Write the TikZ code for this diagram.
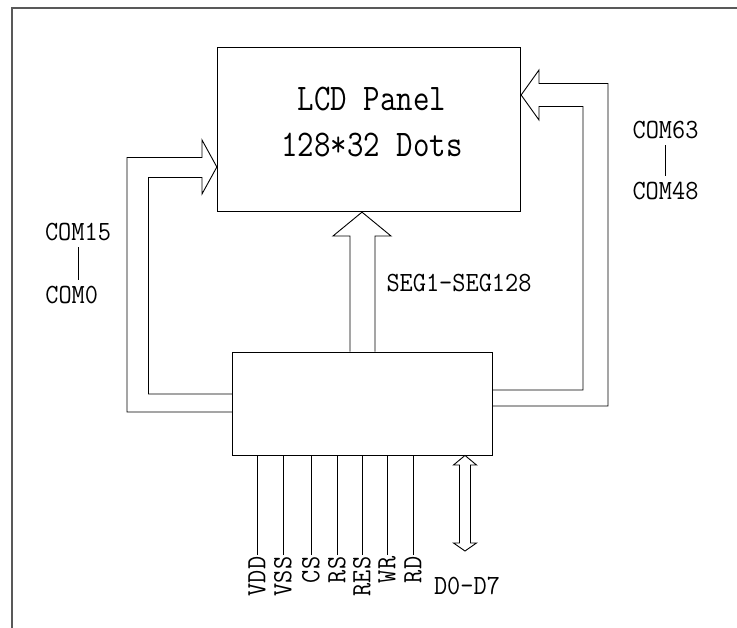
\documentclass[tikz,border=0pt]{standalone}
\usepackage{tikz}
\usetikzlibrary{calc}
\newcommand{\bigFont}{\fontsize{37.6}{46.7}\selectfont\ttfamily}
\newcommand{\smallFont}{\fontsize{27.8}{33}\selectfont\ttfamily}

\begin{document}
\begin{tikzpicture}[x=1pt, y=-1pt, line width=0.9pt,
	box/.style={draw, rectangle, inner sep=0pt},
	bigText/.style={font=\bigFont, align=center, xscale=0.85},
	smallText/.style={font=\smallFont, xscale=0.92, inner sep=6pt, anchor=base},
	pinText/.style={font=\smallFont, rotate=90, xscale=0.92, anchor=east, inner sep=1.5pt}]
\useasboundingbox (0,0) rectangle (737,628);

% Draw frame
\draw[gray!70!black, line width=1.3pt] (12,628) -- (12,8) -- (737,8);

% Draw panel and driver
\node[box, minimum width=303.4pt, minimum height=164.4pt] (panel) at (369,129.5) {};
\node[bigText] (panelText) at (372,122) {LCD Panel\\128*32 Dots};
\node[box, minimum width=260.4pt, minimum height=103pt] (driver) at (362.5,403.5) {};

% Draw COM arrows
\draw (driver.west |- 0,412) -- (127,412) -- (127,157.5) -- (202,157.5) -- (202,140)
	-- (panel.west |- 0,167) -- (202,194) -- (202,177.5) -- (148.5,177.5) -- (148.5,394) -- (driver.west |- 0,394);
\draw (driver.east |- 0,406) -- (608,406) -- (608,83.5) -- (539,83.5) -- (539,70)
	-- (panel.east |- 0,95) -- (539,120) -- (539,106.5) -- (583,106.5) -- (583,390) -- (driver.east |- 0,390);

% Draw SEG arrow
\draw (driver.north -| 350,0) -- (350,236) -- (333,236) -- (panel.south -| 362,0) -- (391,236) -- (375,236) -- (driver.north -| 375,0);

% Draw data arrow
\coordinate (dataEnd) at (465,551);
\draw (driver.south -| 465,0) -- (476.5,465) -- (470.5,465) -- (470.5,543) -- (476.5,543) -- (dataEnd)
	-- (453.5,543) -- (459.5,543) -- (459.5,465) -- (453.5,465) -- cycle;

% Labels
\node[smallText] (com15) at (78,240.7) {COM15};
\node[smallText] (com0) at (71.7,304) {COM0};
\draw (com15.south) -- (com15.south |- com0.north);
\node[smallText] (com63) at (665.5,138.3) {COM63};
\node[smallText] (com48) at (665.5,200) {COM48};
\draw (com63.south) -- (com63.south |- com48.north);
\node[smallText] (seg) at (459,291.7) {SEG1-SEG128};
\node[smallText] (data) at (467,594) {D0-D7};

% Draw pins
\foreach \pinName/\pinX [count=\i] in {VDD/257,VSS/283,CS/311,RS/337,RES/362,WR/387,RD/413}{
	\node[pinText] (pin\i) at (\pinX,555) {\pinName};
	\draw (pin\i.east) -- (pin\i.east |- driver.south);
}
\end{tikzpicture}
\end{document}
